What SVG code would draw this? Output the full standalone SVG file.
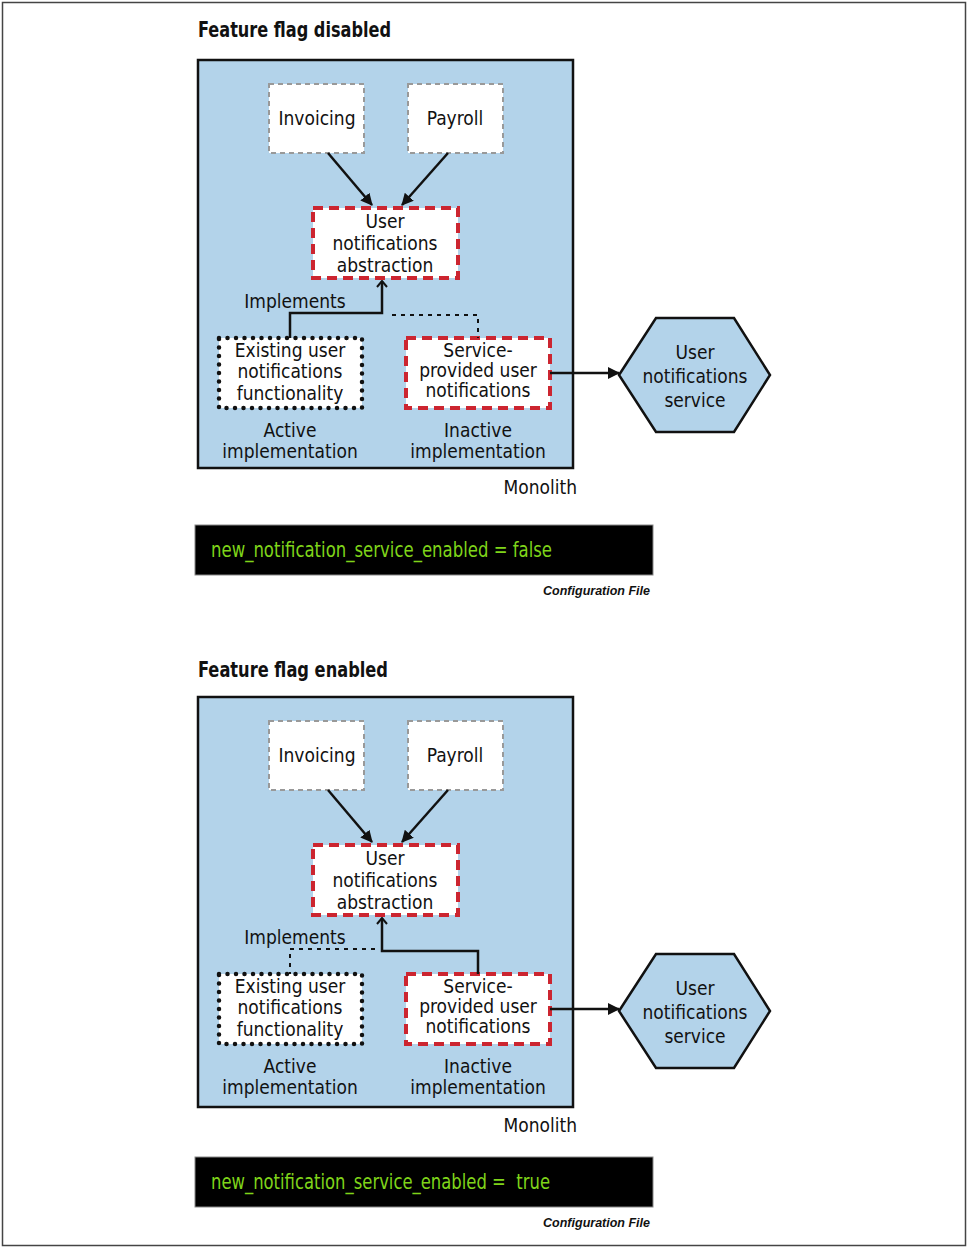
<svg xmlns="http://www.w3.org/2000/svg" width="968" height="1248" viewBox="0 0 968 1248">
<style>
.t{font-family:"DejaVu Sans Condensed","DejaVu Sans",sans-serif;font-stretch:condensed;font-size:19px;fill:#111;text-anchor:middle}
.title{font-family:"DejaVu Sans Condensed","DejaVu Sans",sans-serif;font-stretch:condensed;font-weight:bold;font-size:22px;fill:#111}
.code{font-family:"DejaVu Sans Condensed","DejaVu Sans",sans-serif;font-stretch:condensed;font-size:21px;fill:#7fd41a}
.cf{font-family:"Liberation Sans",Arial,sans-serif;font-weight:bold;font-style:italic;font-size:12.5px;fill:#111;text-anchor:end}
.mono{fill:#b3d3ea;stroke:#111;stroke-width:2.5}
.gray{fill:#fff;stroke:#999;stroke-width:2;stroke-dasharray:5 4}
.red{fill:#fff;stroke:#cc2530;stroke-width:4;stroke-dasharray:10 6}
.dot{fill:#fff;stroke:#111;stroke-width:4.5;stroke-linecap:round;stroke-dasharray:0 8.5}
.hex{fill:#b3d3ea;stroke:#111;stroke-width:2.5}
.ln{fill:none;stroke:#111;stroke-width:2.5}
.dl{fill:none;stroke:#111;stroke-width:2;stroke-dasharray:4 5}
.cfg{fill:#000;stroke:#888;stroke-width:1}
</style>
<defs>
<marker id="ah" viewBox="0 0 12 12" refX="11" refY="6" markerWidth="12" markerHeight="12" markerUnits="userSpaceOnUse" orient="auto">
<path d="M0,0 L12,6 L0,12 Z" fill="#111"/>
</marker>
<marker id="oa" viewBox="0 0 12 12" refX="6" refY="1" markerWidth="12" markerHeight="12" markerUnits="userSpaceOnUse" orient="0">
<path d="M1,7 L6,1 L11,7" fill="none" stroke="#111" stroke-width="2"/>
</marker>
</defs>
<rect x="2.5" y="2.5" width="963" height="1243" fill="#fff" stroke="#444" stroke-width="1.5"/>

<!-- ===== Top: disabled ===== -->
<g id="top">
<text class="title" x="198" y="37" textLength="193" lengthAdjust="spacingAndGlyphs">Feature flag disabled</text>
<g id="monolith1"><rect class="mono" x="198" y="60" width="375" height="408"/><text class="t" x="577" y="494" style="text-anchor:end">Monolith</text></g>
<g id="invoicing1"><rect class="gray" x="269" y="84" width="95" height="69"/><text class="t" x="317" y="125">Invoicing</text></g>
<g id="payroll1"><rect class="gray" x="408" y="84" width="95" height="69"/><text class="t" x="455" y="125">Payroll</text></g>
<g id="abstraction1"><rect class="red" x="313" y="208" width="145" height="70"/>
<text class="t" x="385" y="228">User</text><text class="t" x="385" y="250">notifications</text><text class="t" x="385" y="272">abstraction</text></g>
<g id="existing1"><rect class="dot" x="219" y="338" width="143" height="70"/>
<text class="t" x="290" y="357">Existing user</text><text class="t" x="290" y="378">notifications</text><text class="t" x="290" y="400">functionality</text></g>
<g id="service1"><rect class="red" x="406" y="338" width="144" height="70"/>
<text class="t" x="478" y="357">Service-</text><text class="t" x="478" y="377">provided user</text><text class="t" x="478" y="397">notifications</text></g>
<g id="active1"><text class="t" x="290" y="437">Active</text><text class="t" x="290" y="458">implementation</text></g>
<g id="inactive1"><text class="t" x="478" y="437">Inactive</text><text class="t" x="478" y="458">implementation</text></g>
<g id="implements1"><text class="t" x="295" y="308">Implements</text></g>
<g id="ums1"><polygon class="hex" points="619,375 656,318 734,318 770,375 734,432 656,432"/>
<text class="t" x="695" y="359">User</text><text class="t" x="695" y="383">notifications</text><text class="t" x="695" y="407">service</text></g>
<g id="config1"><rect class="cfg" x="195" y="525" width="458" height="50"/>
<text class="code" x="211" y="557" textLength="341" lengthAdjust="spacingAndGlyphs">new_notification_service_enabled = false</text>
<text class="cf" x="650" y="595">Configuration File</text></g>
<g id="connectors1">
<line class="ln" x1="328" y1="153" x2="372" y2="205" marker-end="url(#ah)"/>
<line class="ln" x1="448" y1="153" x2="402" y2="205" marker-end="url(#ah)"/>
<path class="ln" d="M290,338 V313 H382 V281" marker-end="url(#oa)"/>
<path class="dl" d="M392,315 H478 V338"/>
<line class="ln" x1="550" y1="373" x2="619" y2="373" marker-end="url(#ah)"/>
</g>
</g>

<!-- ===== Bottom: enabled ===== -->
<g id="bottom">
<text class="title" x="198" y="677" textLength="190" lengthAdjust="spacingAndGlyphs">Feature flag enabled</text>
<g id="monolith2"><rect class="mono" x="198" y="697" width="375" height="410"/><text class="t" x="577" y="1132" style="text-anchor:end">Monolith</text></g>
<g id="invoicing2"><rect class="gray" x="269" y="721" width="95" height="69"/><text class="t" x="317" y="762">Invoicing</text></g>
<g id="payroll2"><rect class="gray" x="408" y="721" width="95" height="69"/><text class="t" x="455" y="762">Payroll</text></g>
<g id="abstraction2"><rect class="red" x="313" y="845" width="145" height="70"/>
<text class="t" x="385" y="865">User</text><text class="t" x="385" y="887">notifications</text><text class="t" x="385" y="909">abstraction</text></g>
<g id="existing2"><rect class="dot" x="219" y="974" width="143" height="70"/>
<text class="t" x="290" y="993">Existing user</text><text class="t" x="290" y="1014">notifications</text><text class="t" x="290" y="1036">functionality</text></g>
<g id="service2"><rect class="red" x="406" y="974" width="144" height="70"/>
<text class="t" x="478" y="993">Service-</text><text class="t" x="478" y="1013">provided user</text><text class="t" x="478" y="1033">notifications</text></g>
<g id="active2"><text class="t" x="290" y="1073">Active</text><text class="t" x="290" y="1094">implementation</text></g>
<g id="inactive2"><text class="t" x="478" y="1073">Inactive</text><text class="t" x="478" y="1094">implementation</text></g>
<g id="implements2"><text class="t" x="295" y="944">Implements</text></g>
<g id="ums2"><polygon class="hex" points="619,1011 656,954 734,954 770,1011 734,1068 656,1068"/>
<text class="t" x="695" y="995">User</text><text class="t" x="695" y="1019">notifications</text><text class="t" x="695" y="1043">service</text></g>
<g id="config2"><rect class="cfg" x="195" y="1157" width="458" height="50"/>
<text class="code" x="211" y="1189" xml:space="preserve" textLength="339" lengthAdjust="spacingAndGlyphs">new_notification_service_enabled =  true</text>
<text class="cf" x="650" y="1227">Configuration File</text></g>
<g id="connectors2">
<line class="ln" x1="328" y1="790" x2="372" y2="842" marker-end="url(#ah)"/>
<line class="ln" x1="448" y1="790" x2="402" y2="842" marker-end="url(#ah)"/>
<path class="ln" d="M478,974 V951 H382 V918" marker-end="url(#oa)"/>
<path class="dl" d="M375,949 H290 V974"/>
<line class="ln" x1="550" y1="1009" x2="619" y2="1009" marker-end="url(#ah)"/>
</g>
</g>
</svg>
